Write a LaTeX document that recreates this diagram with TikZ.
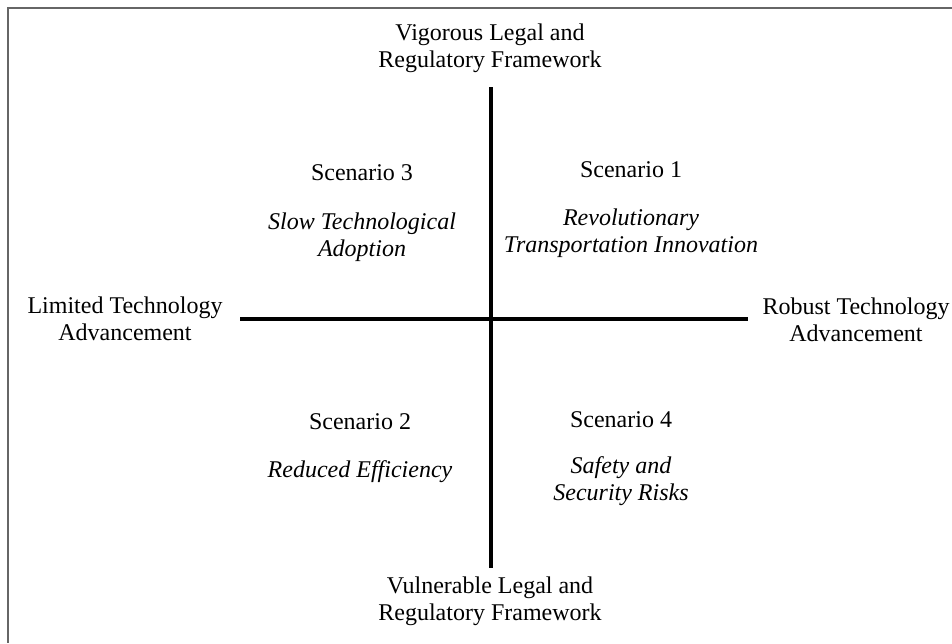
\documentclass[tikz,border=0pt]{standalone}
\usepackage{fontspec}
\setmainfont{Liberation Serif}
\begin{document}
\begin{tikzpicture}[x=0.5pt,y=-0.5pt,
  lbl/.style={align=center,inner sep=0pt,font=\fontsize{12}{13.6}\selectfont},
  axis/.style={line width=2pt,black},
  frame/.style={line width=1.2pt,black!60}]
\useasboundingbox (0,0) rectangle (952,643);
\fill[white] (0,0) rectangle (952,643);
% frame: top and left edges only
\draw[frame] (952,8) -- (8,8) -- (8,643);
% axis ends
\coordinate (vt) at (491,87);
\coordinate (vb) at (491,568);
\coordinate (hl) at (240,319);
\coordinate (hr) at (748,319);
\draw[axis] (vt) -- (vb);
\draw[axis] (hl) -- (hr);
% axis labels
\node[lbl] (top) at (490,48) {Vigorous Legal and\\Regulatory Framework};
\node[lbl] (bot) at (490,601) {Vulnerable Legal and\\Regulatory Framework};
\node[lbl] (left) at (125,319) {Limited Technology\\Advancement};
\node[lbl] (right) at (856,320) {Robust Technology\\Advancement};
% scenarios
\node[lbl] (s3) at (362,173) {Scenario 3};
\node[lbl,font=\fontsize{12}{13.6}\selectfont\itshape] (s3t) at (362,237) {Slow Technological\\Adoption};
\node[lbl] (s1) at (631,170) {Scenario 1};
\node[lbl,font=\fontsize{12}{13.6}\selectfont\itshape] (s1t) at (631,233) {Revolutionary\\Transportation Innovation};
\node[lbl] (s2) at (360,422) {Scenario 2};
\node[lbl,font=\fontsize{12}{13.6}\selectfont\itshape] (s2t) at (360,472) {Reduced Efficiency};
\node[lbl] (s4) at (621,420) {Scenario 4};
\node[lbl,font=\fontsize{12}{13.6}\selectfont\itshape] (s4t) at (621,481) {Safety and\\Security Risks};
\end{tikzpicture}
\end{document}
